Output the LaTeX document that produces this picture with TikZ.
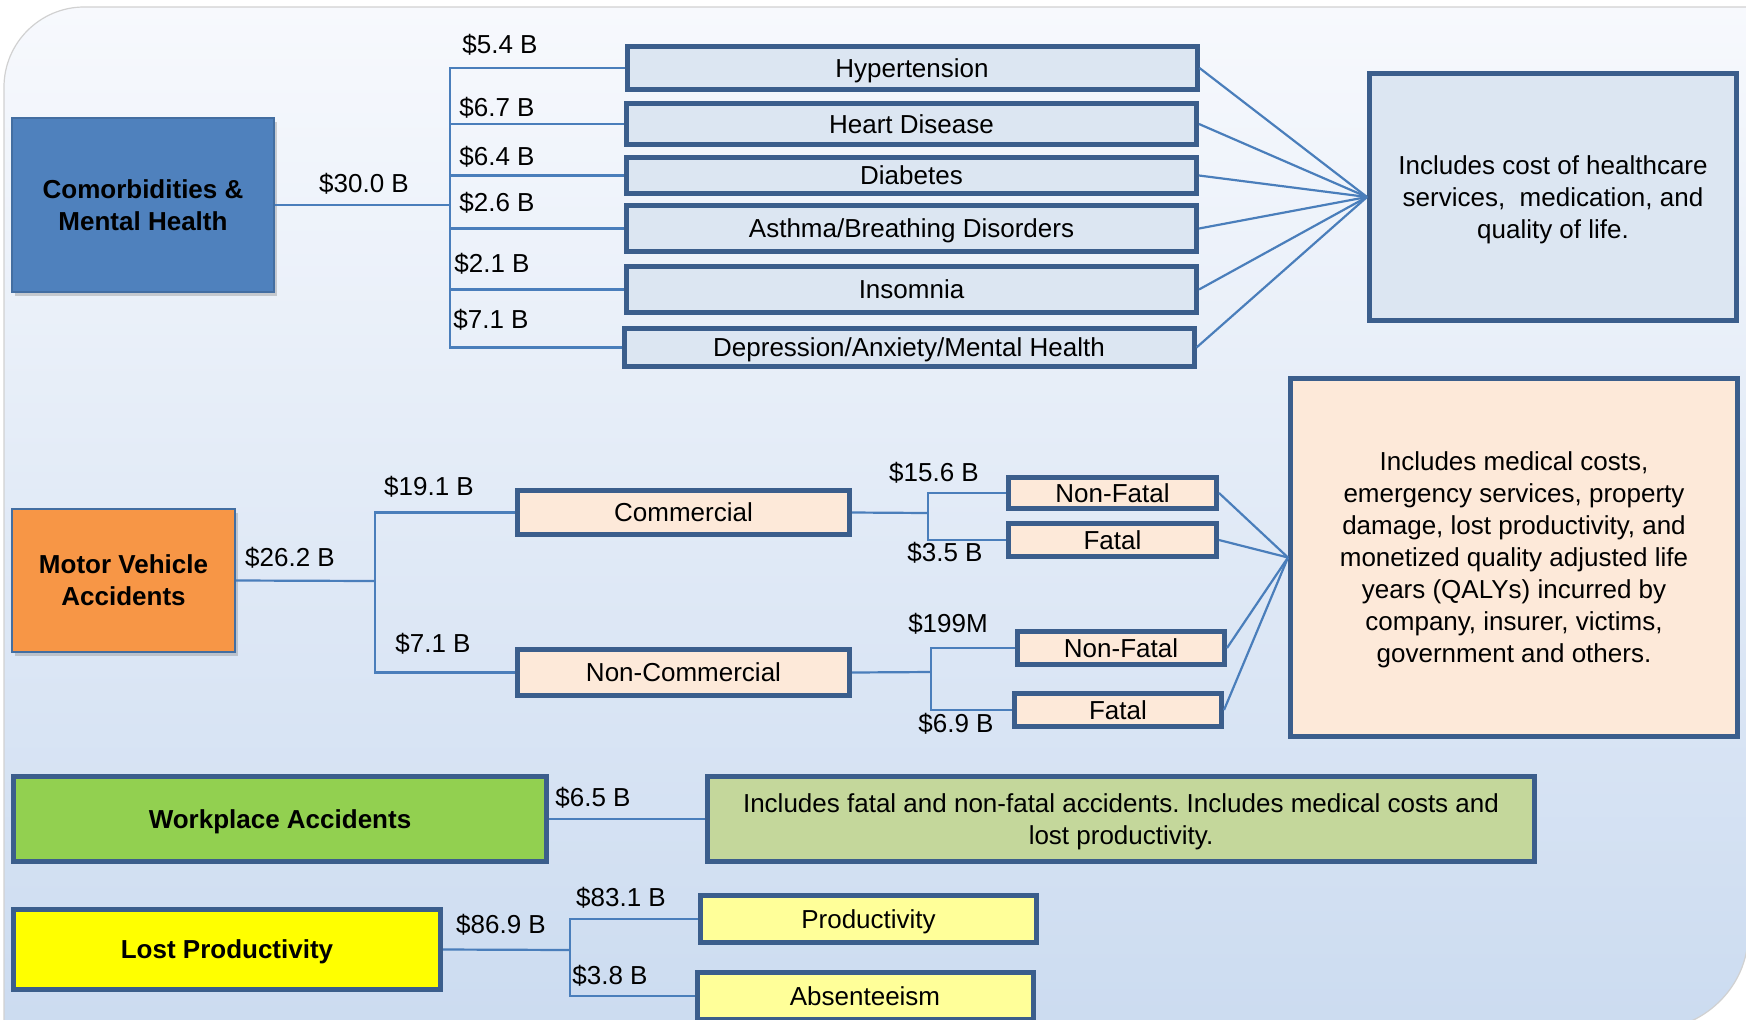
\documentclass[tikz,border=0pt]{standalone}
\usepackage{fontspec}
\setmainfont{Liberation Sans}
\usetikzlibrary{shadows}
\frenchspacing

\definecolor{bgtop}{RGB}{247,249,253}
\definecolor{bgbot}{RGB}{203,219,240}
\definecolor{edgeblue}{RGB}{59,94,140}
\definecolor{linkblue}{RGB}{74,126,187}
\definecolor{catfill}{RGB}{220,230,242}
\definecolor{cmbblue}{RGB}{79,129,189}
\definecolor{mvorange}{RGB}{247,150,70}
\definecolor{peach}{RGB}{253,233,217}
\definecolor{wagreen}{RGB}{146,208,80}
\definecolor{waolive}{RGB}{196,215,155}
\definecolor{lpyellow}{RGB}{255,255,0}
\definecolor{lightyellow}{RGB}{255,255,153}

\begin{document}
\begin{tikzpicture}[x=0.5pt, y=-0.5pt,
    every node/.style={font=\fontsize{13}{16}\selectfont, inner sep=0pt, align=center},
    titletext/.style={font=\fontsize{13}{16}\selectfont\bfseries},
    box/.style={draw=edgeblue, line width=2.5pt, fill=catfill, text depth=-1.2pt},
    catbox/.style={box, minimum width=285pt},
    topbox/.style={draw=cmbblue!85!black, line width=1pt, titletext,
      drop shadow={shadow xshift=1.5pt, shadow yshift=-2pt, opacity=0.35}},
    link/.style={draw=linkblue, line width=1.1pt}]

          \useasboundingbox (0,0) rectangle (1746,1019);
          \shadedraw[top color=bgtop, bottom color=bgbot, draw=black!18, line width=0.6pt]
            (4,1040) -- (4,87) .. controls (4,43) and (40,7) .. (84,7) -- (1748,7)
            -- (1748,935) .. controls (1748,987) and (1703,1030) .. (1651,1030) -- cycle;

          % comorbidities
          \begin{scope}
            \node[topbox, fill=cmbblue, minimum width=131pt, minimum height=87pt] (cmb) at (143,205) {Comorbidities \&\\Mental Health};
            \coordinate (cmbsplit) at (450,205);

            \node[catbox, minimum height=21.5pt] (hyp) at (912,68) {Hypertension};
            \node[catbox, minimum height=20.5pt] (heart) at (911.5,124) {Heart Disease};
            \node[catbox, minimum height=18pt] (diab) at (911.5,175.5) {Diabetes};
            \node[catbox, minimum height=23pt] (asthma) at (911.5,228.5) {Asthma/Breathing Disorders};
            \node[catbox, minimum height=23pt] (insom) at (911.5,289.5) {Insomnia};
            \node[catbox, minimum height=19pt] (depr) at (909,347.5) {Depression/Anxiety/Mental Health};

            \node[box, minimum width=183.5pt, minimum height=123.5pt] (hcinfo) at (1553,197)
              {Includes cost of healthcare\\services,\ \ medication, and\\quality of life.};

            \node (cmbcost) at (364,184) {\$30.0 B};
            \node (hypcost) at (500,45) {\$5.4 B};
            \node (heartcost) at (497,108) {\$6.7 B};
            \node (diabcost) at (497,157) {\$6.4 B};
            \node (asthmacost) at (497,203) {\$2.6 B};
            \node (insomcost) at (492,264) {\$2.1 B};
            \node (deprcost) at (491,320) {\$7.1 B};

            \draw[link] (cmb.east) -- (cmbsplit);
            \foreach \n in {hyp,heart,diab,asthma,insom,depr}{
              \draw[link] (cmbsplit) |- (\n.west);
              \draw[link] (\n.east) -- (hcinfo.west);
            }
          \end{scope}

          % motor vehicle accidents
          \begin{scope}
            \node[topbox, fill=mvorange, minimum width=111.5pt, minimum height=71.5pt] (mva) at (123.5,580.5) {Motor Vehicle\\Accidents};
            \coordinate (mvasplit) at (375,581);

            \node[box, fill=peach, minimum width=166pt, minimum height=22pt] (comm) at (683.5,512.5) {Commercial};
            \node[box, fill=peach, minimum width=166pt, minimum height=23pt] (ncomm) at (683.5,672.5) {Non-Commercial};
            \coordinate (commsplit) at (928,513);
            \coordinate (ncommsplit) at (931,672);

            \node[box, fill=peach, minimum width=104pt, minimum height=15.5pt] (nfa) at (1112.5,493) {Non-Fatal};
            \node[box, fill=peach, minimum width=104pt, minimum height=16.5pt] (fa) at (1112.5,540) {Fatal};
            \node[box, fill=peach, minimum width=103.5pt, minimum height=16.5pt] (nfb) at (1121,648) {Non-Fatal};
            \node[box, fill=peach, minimum width=103.5pt, minimum height=16.5pt] (fb) at (1118,710) {Fatal};

            \node[box, fill=peach, minimum width=223.5pt, minimum height=179pt] (mvinfo) at (1514,557.5)
              {Includes medical costs,\\emergency services, property\\damage, lost productivity, and\\monetized quality adjusted life\\years (QALYs) incurred by\\company, insurer, victims,\\government and others.};

            \node (mvacost) at (290,558) {\$26.2 B};
            \node (commcost) at (429,487) {\$19.1 B};
            \node (ncommcost) at (433,644) {\$7.1 B};
            \node (nfacost) at (934,473) {\$15.6 B};
            \node (facost) at (945,553) {\$3.5 B};
            \node (nfbcost) at (948,624) {\$199M};
            \node (fbcost) at (956,724) {\$6.9 B};

            \draw[link] (mva.east) -- (mvasplit);
            \draw[link] (mvasplit) |- (comm.west);
            \draw[link] (mvasplit) |- (ncomm.west);
            \draw[link] (comm.east) -- (commsplit);
            \draw[link] (ncomm.east) -- (ncommsplit);
            \draw[link] (commsplit) |- (nfa.west);
            \draw[link] (commsplit) |- (fa.west);
            \draw[link] (ncommsplit) |- (nfb.west);
            \draw[link] (ncommsplit) |- (fb.west);
            \foreach \n in {nfa,fa,nfb,fb}{
              \draw[link] (\n.east) -- (mvinfo.west);
            }
          \end{scope}

          % workplace accidents
          \node[box, fill=wagreen, titletext, minimum width=266.5pt, minimum height=42.5pt] (wa) at (280,819) {Workplace Accidents};
          \node[box, fill=waolive, minimum width=413.5pt, minimum height=42.5pt] (wainfo) at (1121,819)
            {Includes fatal and non-fatal accidents. Includes medical costs and\\lost productivity.};
          \node (wacost) at (593,798) {\$6.5 B};
          \draw[link] (wa.east) -- (wainfo.west);

          % lost productivity
          \node[box, fill=lpyellow, titletext, minimum width=213.5pt, minimum height=40pt] (lp) at (227,949.5) {Lost Productivity};
          \coordinate (lpsplit) at (570,950);
          \node[box, fill=lightyellow, minimum width=168pt, minimum height=23.5pt] (prod) at (868.5,919) {Productivity};
          \node[box, fill=lightyellow, minimum width=168pt, minimum height=23.5pt] (absent) at (865,996) {Absenteeism};

          \node (lpcost) at (501,925) {\$86.9 B};
          \node (prodcost) at (621,898) {\$83.1 B};
          \node (absentcost) at (610,976) {\$3.8 B};

          \draw[link] (lp.east) -- (lpsplit);
          \draw[link] (lpsplit) |- (prod.west);
          \draw[link] (lpsplit) |- (absent.west);

        \end{tikzpicture}
\end{document}
